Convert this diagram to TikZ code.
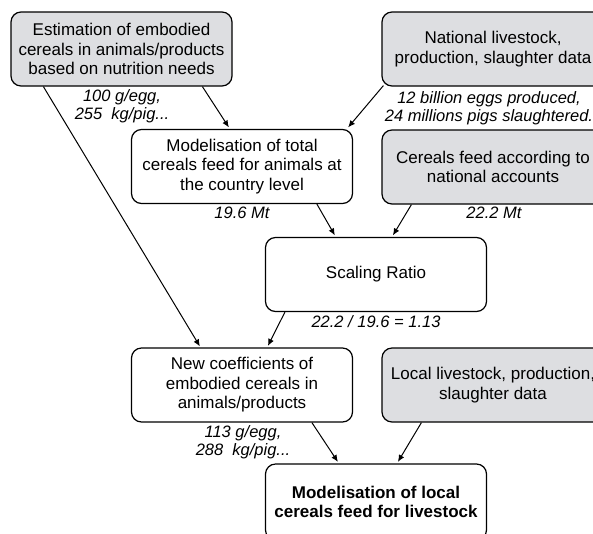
\documentclass[tikz,border=0pt]{standalone}
\usepackage{fontspec}
\setmainfont{Liberation Sans}
\usetikzlibrary{arrows.meta}
\definecolor{boxgray}{RGB}{221,222,225}
\newcommand\boxfont{\fontsize{17}{19.5}\selectfont}
\newcommand\labfont{\fontsize{16.5}{18}\selectfont\itshape}
\begin{document}
\begin{tikzpicture}[x=1pt,y=-1pt,
  box/.style={draw, rounded corners=10pt, line width=1.2pt, minimum width=221pt, minimum height=74pt, align=center, inner sep=0pt, font=\boxfont},
  graybox/.style={box, fill=boxgray},
  lab/.style={font=\labfont, align=center, inner sep=0pt},
  arr/.style={line width=1pt, -{Latex[length=7pt,width=6pt]}}]
\useasboundingbox (0,0) rectangle (593,533);
\clip (0,0) rectangle (593,533);
\node[graybox] (A) at (121.5,49) {Estimation of embodied\\cereals in animals/products\\based on nutrition needs};
\node[graybox, minimum width=222pt] (B) at (493,49) {National livestock,\\production, slaughter data};
\node[box] (C) at (242,166.5) {Modelisation of total\\cereals feed for animals at\\the country level};
\node[graybox, minimum width=222pt] (D) at (493,167) {Cereals feed according to\\national accounts};
\node[box] (E) at (376,274.5) {Scaling Ratio};
\node[box] (F) at (242,385) {New coefficients of\\embodied cereals in\\animals/products};
\node[graybox, minimum width=222pt] (G) at (493,385) {Local livestock, production,\\slaughter data};
\node[box, minimum height=76pt, font=\boxfont\bfseries] (H) at (376,502) {Modelisation of local\\cereals feed for livestock};
\node[lab] (la) at (122,106) {100 g/egg,\\255\ \ kg/pig...};
\node[lab] (lb) at (489,108) {12 billion eggs produced,\\24 millions pigs slaughtered.};
\node[lab] (lc) at (242,213) {19.6 Mt};
\node[lab] (ld) at (494,213) {22.2 Mt};
\node[lab] (le) at (376,322) {22.2 / 19.6 = 1.13};
\node[lab] (lf) at (243,442) {113 g/egg,\\288\ \ kg/pig...};
\draw[arr] ([xshift=33pt]A.south west) -- ([xshift=69pt,yshift=1pt]F.north west);
\draw[arr] ([xshift=192pt]A.south west) -- ([xshift=98pt,yshift=1.5pt]C.north west);
\draw[arr] ([xshift=2pt,yshift=1pt]B.south west) -- ([xshift=-5pt,yshift=1.5pt]C.north east);
\draw[arr] ([xshift=186pt]C.south west) -- ([xshift=70pt,yshift=1.5pt]E.north west);
\draw[arr] ([xshift=30pt]D.south west) -- ([xshift=128pt,yshift=1.5pt]E.north west);
\draw[arr] ([xshift=20pt]E.south west) -- ([xshift=137pt,yshift=1.5pt]F.north west);
\draw[arr] ([xshift=181pt]F.south west) -- ([xshift=73pt,yshift=1.5pt]H.north west);
\draw[arr] ([xshift=40pt]G.south west) -- ([xshift=133pt,yshift=1.5pt]H.north west);
\end{tikzpicture}
\end{document}
